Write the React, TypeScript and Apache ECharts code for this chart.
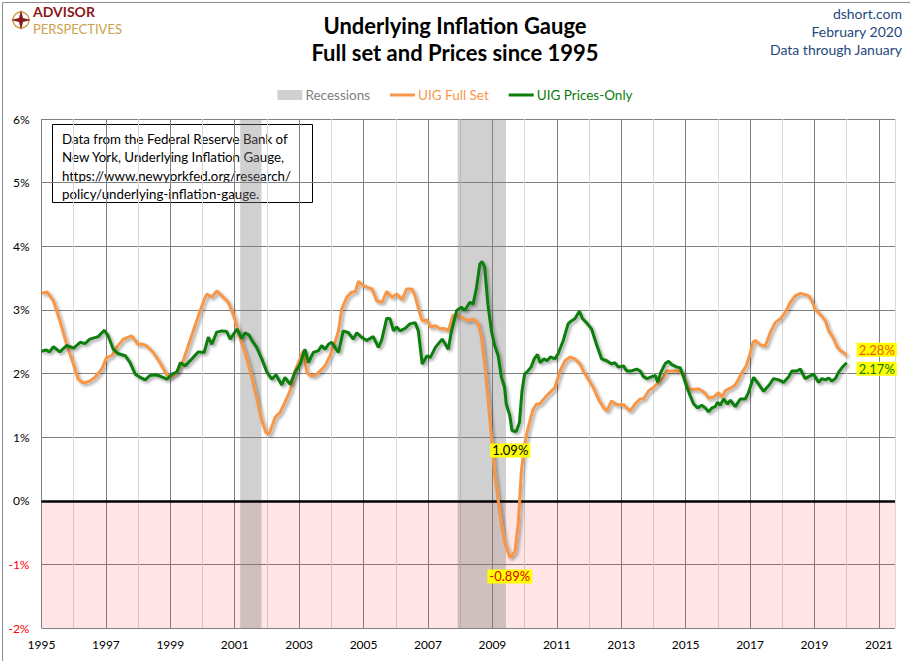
import { useEffect, useRef } from "react";
import * as echarts from "echarts";

// [year, percent], roughly every 1-2 months
const fullSet: [number, number][] = [
  [1995.0, 3.26], [1995.18, 3.28], [1995.37, 3.14], [1995.57, 2.83], [1995.78, 2.46],
  [1995.99, 2.15], [1996.14, 1.91], [1996.3, 1.85], [1996.5, 1.88], [1996.66, 1.94],
  [1996.87, 2.07], [1997.02, 2.25], [1997.18, 2.28], [1997.33, 2.41], [1997.54, 2.54],
  [1997.8, 2.59], [1998.0, 2.46], [1998.16, 2.46], [1998.27, 2.43], [1998.47, 2.33],
  [1998.68, 2.17], [1998.89, 1.98], [1999.0, 1.94], [1999.2, 2.02], [1999.4, 2.2],
  [1999.61, 2.52], [1999.82, 2.83], [2000.02, 3.12], [2000.13, 3.25], [2000.29, 3.2],
  [2000.44, 3.3], [2000.6, 3.22], [2000.8, 3.12], [2001.0, 2.86], [2001.17, 2.55],
  [2001.37, 2.25], [2001.53, 1.94], [2001.68, 1.62], [2001.84, 1.26], [2001.97, 1.07],
  [2002.07, 1.05], [2002.18, 1.21], [2002.25, 1.31], [2002.41, 1.39], [2002.56, 1.55],
  [2002.72, 1.73], [2002.87, 2.04], [2003.03, 2.23], [2003.13, 2.36], [2003.24, 2.02],
  [2003.34, 1.97], [2003.5, 1.97], [2003.65, 2.04], [2003.8, 2.12], [2003.96, 2.28],
  [2004.11, 2.49], [2004.22, 2.67], [2004.32, 3.01], [2004.48, 3.2], [2004.63, 3.28],
  [2004.74, 3.28], [2004.84, 3.45], [2004.99, 3.38], [2005.15, 3.35], [2005.26, 3.33],
  [2005.41, 3.14], [2005.57, 3.12], [2005.72, 3.29], [2005.88, 3.2], [2006.03, 3.25],
  [2006.19, 3.16], [2006.34, 3.33], [2006.5, 3.33], [2006.6, 3.22], [2006.72, 2.99],
  [2006.82, 2.83], [2006.97, 2.84], [2007.08, 2.73], [2007.23, 2.75], [2007.39, 2.7],
  [2007.5, 2.71], [2007.63, 2.67], [2007.78, 2.92], [2007.94, 2.91], [2008.09, 2.87],
  [2008.25, 2.83], [2008.4, 2.86], [2008.56, 2.78], [2008.66, 2.57], [2008.76, 2.15],
  [2008.87, 1.57], [2008.97, 1.0], [2009.07, 0.42], [2009.18, 0.0], [2009.28, -0.37],
  [2009.38, -0.65], [2009.54, -0.89], [2009.7, -0.8], [2009.8, -0.37], [2009.9, 0.47],
  [2010.0, 0.89], [2010.11, 1.15], [2010.25, 1.42], [2010.37, 1.52], [2010.47, 1.52],
  [2010.63, 1.62], [2010.78, 1.7], [2010.94, 1.78], [2011.1, 2.04], [2011.25, 2.2],
  [2011.41, 2.26], [2011.56, 2.23], [2011.72, 2.15], [2011.82, 2.04], [2011.98, 1.91],
  [2012.13, 1.78], [2012.29, 1.6], [2012.44, 1.47], [2012.55, 1.41], [2012.7, 1.57],
  [2012.86, 1.51], [2013.07, 1.51], [2013.27, 1.41], [2013.43, 1.52], [2013.58, 1.6],
  [2013.69, 1.6], [2013.85, 1.73], [2014.0, 1.78], [2014.21, 1.89], [2014.31, 1.94],
  [2014.42, 2.04], [2014.57, 2.04], [2014.73, 2.04], [2014.88, 2.02], [2014.99, 1.89],
  [2015.09, 1.76], [2015.25, 1.75], [2015.4, 1.76], [2015.5, 1.73], [2015.61, 1.69],
  [2015.71, 1.61], [2015.87, 1.63], [2016.02, 1.7], [2016.13, 1.63], [2016.23, 1.73],
  [2016.39, 1.77], [2016.54, 1.82], [2016.64, 1.91], [2016.75, 2.02], [2016.88, 2.12],
  [2017.0, 2.31], [2017.09, 2.49], [2017.16, 2.52], [2017.32, 2.45], [2017.47, 2.43],
  [2017.63, 2.65], [2017.78, 2.8], [2017.94, 2.86], [2018.09, 2.96], [2018.25, 3.12],
  [2018.4, 3.22], [2018.56, 3.26], [2018.71, 3.24], [2018.82, 3.22], [2018.92, 3.14],
  [2019.02, 3.01], [2019.18, 2.93], [2019.34, 2.83], [2019.44, 2.67], [2019.57, 2.57],
  [2019.7, 2.42], [2019.8, 2.36], [2019.9, 2.33], [2020.0, 2.28],
];

const pricesOnly: [number, number][] = [
  [1995.0, 2.35], [1995.15, 2.37], [1995.25, 2.34], [1995.37, 2.42], [1995.57, 2.34],
  [1995.78, 2.44], [1996.0, 2.4], [1996.2, 2.49], [1996.35, 2.47], [1996.5, 2.54],
  [1996.76, 2.58], [1996.95, 2.68], [1997.07, 2.59], [1997.23, 2.38], [1997.39, 2.31],
  [1997.6, 2.28], [1997.75, 2.17], [1997.91, 1.99], [1998.06, 1.94], [1998.22, 1.9],
  [1998.37, 1.97], [1998.53, 1.98], [1998.68, 1.96], [1998.89, 1.91], [1999.05, 1.99],
  [1999.2, 2.02], [1999.31, 2.17], [1999.46, 2.12], [1999.67, 2.23], [1999.87, 2.34],
  [2000.05, 2.33], [2000.18, 2.57], [2000.29, 2.46], [2000.44, 2.65], [2000.6, 2.67],
  [2000.75, 2.66], [2000.86, 2.54], [2001.07, 2.7], [2001.22, 2.55], [2001.32, 2.64],
  [2001.45, 2.6], [2001.53, 2.52], [2001.68, 2.41], [2001.84, 2.23], [2002.0, 2.02],
  [2002.15, 1.91], [2002.28, 1.98], [2002.46, 1.82], [2002.56, 1.94], [2002.72, 1.83],
  [2002.87, 2.02], [2003.03, 2.15], [2003.18, 2.38], [2003.29, 2.17], [2003.44, 2.33],
  [2003.6, 2.36], [2003.7, 2.44], [2003.8, 2.38], [2003.91, 2.46], [2004.01, 2.49],
  [2004.22, 2.33], [2004.37, 2.67], [2004.53, 2.64], [2004.68, 2.54], [2004.79, 2.64],
  [2004.94, 2.57], [2005.1, 2.52], [2005.3, 2.58], [2005.46, 2.41], [2005.56, 2.52],
  [2005.72, 2.87], [2005.82, 2.86], [2005.93, 2.67], [2006.03, 2.73], [2006.13, 2.67],
  [2006.29, 2.71], [2006.44, 2.78], [2006.6, 2.8], [2006.7, 2.67], [2006.82, 2.15],
  [2006.97, 2.28], [2007.07, 2.25], [2007.23, 2.41], [2007.44, 2.54], [2007.54, 2.46],
  [2007.63, 2.38], [2007.73, 2.67], [2007.89, 2.99], [2008.04, 3.04], [2008.14, 2.99],
  [2008.3, 3.12], [2008.4, 3.09], [2008.5, 3.33], [2008.61, 3.72], [2008.68, 3.76],
  [2008.76, 3.67], [2008.86, 3.09], [2008.97, 2.67], [2009.07, 2.44], [2009.18, 2.28],
  [2009.28, 1.94], [2009.38, 1.78], [2009.43, 1.52], [2009.54, 1.34], [2009.61, 1.1],
  [2009.74, 1.09], [2009.84, 1.23], [2009.92, 1.73], [2010.0, 1.99], [2010.1, 2.04],
  [2010.2, 2.1], [2010.3, 2.23], [2010.4, 2.3], [2010.48, 2.17], [2010.6, 2.23],
  [2010.7, 2.2], [2010.8, 2.26], [2010.94, 2.23], [2011.04, 2.31], [2011.2, 2.52],
  [2011.35, 2.78], [2011.46, 2.83], [2011.56, 2.86], [2011.7, 2.98], [2011.8, 2.86],
  [2011.92, 2.8], [2012.08, 2.7], [2012.23, 2.46], [2012.39, 2.23], [2012.55, 2.2],
  [2012.7, 2.15], [2012.8, 2.17], [2012.91, 2.1], [2013.07, 2.12], [2013.17, 2.04],
  [2013.32, 2.04], [2013.48, 2.07], [2013.59, 2.04], [2013.69, 1.95], [2013.8, 1.92],
  [2013.95, 1.95], [2014.06, 1.97], [2014.13, 1.86], [2014.23, 2.02], [2014.37, 2.16],
  [2014.47, 2.19], [2014.57, 2.14], [2014.73, 2.1], [2014.83, 2.09], [2014.94, 1.94],
  [2015.04, 1.78], [2015.14, 1.65], [2015.25, 1.52], [2015.37, 1.46], [2015.5, 1.5],
  [2015.61, 1.46], [2015.71, 1.4], [2015.82, 1.46], [2015.92, 1.48], [2015.99, 1.55],
  [2016.07, 1.5], [2016.18, 1.6], [2016.3, 1.52], [2016.39, 1.58], [2016.54, 1.48],
  [2016.7, 1.6], [2016.85, 1.6], [2016.95, 1.7], [2017.11, 1.94], [2017.27, 1.83],
  [2017.42, 1.72], [2017.58, 1.81], [2017.73, 1.92], [2017.89, 1.9], [2018.04, 1.86],
  [2018.2, 1.95], [2018.3, 2.04], [2018.46, 2.04], [2018.56, 2.07], [2018.71, 1.92],
  [2018.82, 1.95], [2018.97, 1.99], [2019.13, 1.86], [2019.23, 1.92], [2019.34, 1.9],
  [2019.44, 1.93], [2019.54, 1.88], [2019.65, 1.92], [2019.75, 2.02], [2019.85, 2.09],
  [2020.0, 2.17],
];

const recessions: [number, number][] = [
  [2001.17, 2001.83],
  [2007.92, 2009.42],
];

const yMin = -2;
const yMax = 6;
const xMin = 1995;
const xMax = 2021.5;

const FONT = "Lato";
const ORANGE = "#F79646";
const GREEN = "#0A7D0A";
const LINE_ICON = "path://M0,0H25V3H0Z";

const noteLines = [
  "Data from the Federal Reserve Bank of",
  "New York, Underlying Inflation Gauge,",
  "https://www.newyorkfed.org/research/",
  "policy/underlying-inflation-gauge.",
];

const sourceLines = ["dshort.com", "February 2020", "Data through January"];

const lowest = (d: [number, number][]) =>
  d.reduce((a, b) => (b[1] < a[1] ? b : a));

const shadow = {
  shadowColor: "rgba(0,0,0,0.35)",
  shadowBlur: 3,
  shadowOffsetX: 2,
  shadowOffsetY: 2,
};

export default function App() {
  const chartRef = useRef<HTMLDivElement>(null);

  useEffect(() => {
    document.body.style.margin = "0";
    const myChart = echarts.init(chartRef.current!, null, { renderer: "svg" });

    const fullMin = lowest(fullSet);
    const pricesMin = lowest(pricesOnly);

    const option = {
      animation: false,
      backgroundColor: "#fff",
      textStyle: { fontFamily: FONT },
      title: {
        text: "Underlying Inflation Gauge\nFull set and Prices since 1995",
        left: "center",
        top: 7,
        textStyle: {
          fontFamily: FONT,
          fontSize: 22,
          fontWeight: "bold",
          color: "#000",
          lineHeight: 27,
        },
      },
      legend: {
        top: 83,
        left: "center",
        itemGap: 20,
        itemWidth: 25,
        itemHeight: 10,
        selectedMode: false,
        data: [
          { name: "Recessions", icon: "rect", textStyle: { color: "#808080" } },
          { name: "UIG Full Set", icon: LINE_ICON, textStyle: { color: ORANGE } },
          { name: "UIG Prices-Only", icon: LINE_ICON, textStyle: { color: GREEN } },
        ],
        textStyle: { fontFamily: FONT, fontSize: 13.5, padding: [0, 0, 0, -2] },
      },
      grid: { left: 41.5, right: 15, top: 119, bottom: 33 },
      xAxis: {
        type: "value",
        min: xMin,
        max: xMax,
        interval: 1,
        axisLine: { show: false },
        axisTick: { show: false },
        axisLabel: {
          margin: 10,
          fontSize: 12,
          color: "#000",
          fontFamily: FONT,
          formatter: (v: number) => (v % 2 === 1 ? String(v) : ""),
        },
        splitLine: {
          show: true,
          lineStyle: { color: ["#808080", "#D9D9D9"], width: 1 },
        },
      },
      yAxis: {
        type: "value",
        min: yMin,
        max: yMax,
        interval: 1,
        axisLine: { show: false },
        axisTick: { show: false },
        axisLabel: {
          margin: 12,
          fontSize: 12,
          fontFamily: FONT,
          formatter: (v: number) => `${v}%`,
          color: (v: any) => (Number(v) < 0 ? "#FF0000" : "#000"),
        },
        splitLine: { lineStyle: { color: "#808080", width: 1 } },
      },
      series: [
        {
          name: "Recessions",
          type: "bar",
          data: [],
          itemStyle: { color: "#D0D0D0" },
        },
        {
          name: "UIG Full Set",
          type: "line",
          data: fullSet,
          showSymbol: false,
          symbol: "none",
          lineStyle: { color: ORANGE, width: 3, ...shadow },
          itemStyle: { color: ORANGE },
          z: 3,
          endLabel: {
            show: true,
            formatter: (p: any) => `${p.value[1].toFixed(2)}%`,
            color: "#F05A0A",
            backgroundColor: "#FFFF00",
            padding: [1, 2, 0, 2],
            fontSize: 13,
            fontFamily: FONT,
            distance: 10,
            offset: [0, -6],
          },
          markArea: {
            silent: true,
            data: [
              [
                { yAxis: yMin, itemStyle: { color: "rgba(255,0,0,0.1)" } },
                { yAxis: 0 },
              ],
              ...recessions.map(([a, b]) => [
                { xAxis: a, itemStyle: { color: "rgba(128,128,128,0.37)" } },
                { xAxis: b },
              ]),
            ],
          },
          markLine: {
            silent: true,
            symbol: "none",
            z: 2,
            label: { show: false },
            lineStyle: { color: "#000", width: 2.5, type: "solid" },
            data: [{ yAxis: 0 }],
          },
          markPoint: {
            symbol: "rect",
            symbolSize: 0,
            data: [
              {
                coord: fullMin,
                label: {
                  show: true,
                  formatter: `${fullMin[1].toFixed(2)}%`,
                  color: "#E00000",
                  backgroundColor: "#FFFF00",
                  padding: [1, 2, 0, 2],
                  fontSize: 13,
                  fontFamily: FONT,
                  offset: [0, 19],
                },
              },
            ],
          },
        },
        {
          name: "UIG Prices-Only",
          type: "line",
          data: pricesOnly,
          showSymbol: false,
          symbol: "none",
          lineStyle: { color: GREEN, width: 3, ...shadow },
          itemStyle: { color: GREEN },
          z: 4,
          endLabel: {
            show: true,
            formatter: (p: any) => `${p.value[1].toFixed(2)}%`,
            color: GREEN,
            backgroundColor: "#FFFF00",
            padding: [1, 2, 0, 2],
            fontSize: 13,
            fontFamily: FONT,
            distance: 10,
            offset: [0, 6],
          },
          markPoint: {
            symbol: "rect",
            symbolSize: 0,
            data: [
              {
                coord: pricesMin,
                label: {
                  show: true,
                  formatter: `${pricesMin[1].toFixed(2)}%`,
                  color: "#000",
                  backgroundColor: "#FFFF00",
                  padding: [1, 2, 0, 2],
                  fontSize: 13,
                  fontFamily: FONT,
                  offset: [-6, 19],
                },
              },
            ],
          },
        },
      ],
      graphic: [
        {
          type: "rect",
          left: 0,
          top: 0,
          shape: { x: 0.5, y: 0.5, width: 909, height: 660 },
          style: { fill: "none", stroke: "#8C8C8C", lineWidth: 1 },
          silent: true,
        },
        // source, top right
        ...sourceLines.map((t, i) => ({
          type: "text",
          x: 902,
          y: 6 + i * 18,
          style: {
            text: t,
            fill: "#1F497D",
            font: `14px ${FONT}`,
            align: "right",
            verticalAlign: "top",
          },
        })),
        // logo
        {
          type: "circle",
          shape: { cx: 21, cy: 20, r: 8 },
          style: { fill: "none", stroke: "#C9A24B", lineWidth: 1.5 },
        },
        {
          type: "polygon",
          shape: {
            points: [
              [21, 10], [23, 18], [31, 20], [23, 22],
              [21, 30], [19, 22], [11, 20], [19, 18],
            ],
          },
          style: { fill: "#8B1A1A" },
        },
        {
          type: "text",
          x: 33,
          y: 4.5,
          style: {
            text: "ADVISOR",
            fill: "#8B1A1A",
            font: `bold 14px ${FONT}`,
            verticalAlign: "top",
          },
        },
        {
          type: "text",
          x: 33,
          y: 22,
          style: {
            text: "PERSPECTIVES",
            fill: "#C9A24B",
            font: `13px ${FONT}`,
            verticalAlign: "top",
          },
        },
        // source note
        {
          type: "group",
          left: 52,
          top: 124,
          children: [
            {
              type: "rect",
              shape: { x: 0.5, y: 0.5, width: 260, height: 78 },
              style: { fill: "#fff", stroke: "#000", lineWidth: 1 },
            },
            {
              type: "text",
              x: 10,
              y: 6,
              style: {
                text: noteLines.join("\n"),
                fill: "#000",
                font: `13.3px ${FONT}`,
                lineHeight: 18.3,
              },
            },
          ],
        },
      ],
    };

    myChart.setOption(option as any);

    const handleResize = () => myChart.resize();
    window.addEventListener("resize", handleResize);

    return () => {
      window.removeEventListener("resize", handleResize);
      myChart.dispose();
    };
  }, []);

  return <div ref={chartRef} style={{ width: "910px", height: "661px" }} />;
}
